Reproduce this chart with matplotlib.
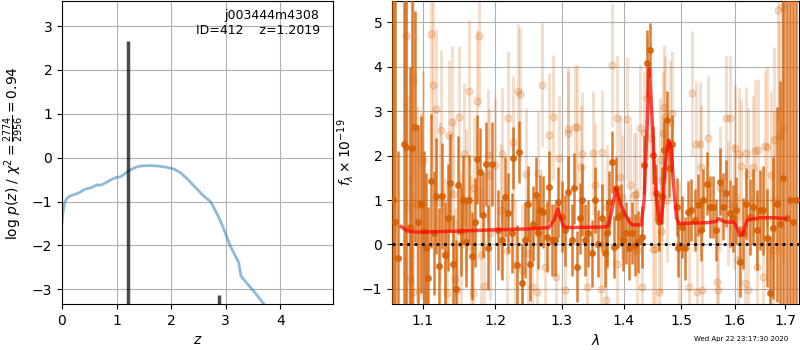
import matplotlib
matplotlib.use('Agg')
import matplotlib.pyplot as plt
from matplotlib.ticker import FixedLocator, NullLocator

# p(z) panel
pz_z = [0.00, 0.02, 0.05, 0.09, 0.14, 0.20, 0.25, 0.33, 0.39, 0.45, 0.52, 0.58,
        0.64, 0.70, 0.76, 0.82, 0.90, 1.00, 1.06, 1.12, 1.22, 1.30, 1.37, 1.45,
        1.61, 1.75, 1.92, 2.05, 2.17, 2.30, 2.40, 2.50, 2.60, 2.72, 2.80, 2.86,
        2.93, 3.00, 3.08, 3.14, 3.20, 3.24, 3.28, 3.40, 3.55, 3.72]
pz_logp = [-1.50, -1.22, -1.02, -0.93, -0.88, -0.85, -0.83, -0.79, -0.74, -0.71, -0.69, -0.66,
           -0.62, -0.63, -0.60, -0.56, -0.50, -0.45, -0.44, -0.40, -0.30, -0.25, -0.21, -0.19,
           -0.18, -0.19, -0.22, -0.26, -0.34, -0.49, -0.62, -0.75, -0.88, -1.00, -1.18, -1.33,
           -1.52, -1.74, -2.00, -2.15, -2.30, -2.40, -2.70, -2.88, -3.10, -3.37]
peak_z = [1.2019, 2.87]
peak_top = [2.65, -3.13]

# spectrum, binned points (dark)
dark_wave = [1.061, 1.064, 1.068, 1.0756, 1.0781, 1.0830, 1.0863, 1.0899, 1.0940, 1.0980,
             1.1015, 1.1040, 1.1074, 1.1114, 1.1145, 1.1177, 1.1221, 1.1261, 1.1299, 1.1335,
             1.1367, 1.1412, 1.1445, 1.1481, 1.1515, 1.1550, 1.1590, 1.1629, 1.1675, 1.1710,
             1.1746, 1.1784, 1.1831, 1.1870, 1.1902, 1.1950, 1.2046, 1.2095, 1.2143, 1.2191,
             1.2241, 1.2265, 1.2314, 1.2349, 1.2389, 1.2438, 1.2488, 1.2513, 1.2563, 1.2600,
             1.2639, 1.2664, 1.2715, 1.2767, 1.2801, 1.2844, 1.2895, 1.2941, 1.2998, 1.3050,
             1.3101, 1.3155, 1.3192, 1.3234, 1.3287, 1.3324, 1.3367, 1.3420, 1.3475, 1.3528,
             1.3582, 1.3640, 1.3693, 1.3731, 1.3764, 1.3808, 1.3841, 1.3875, 1.3913, 1.3953,
             1.3996, 1.4042, 1.4087, 1.4138, 1.4194, 1.4250, 1.4308, 1.4352, 1.4394, 1.4450,
             1.4508, 1.4554, 1.4613, 1.4655, 1.4700, 1.4743, 1.4783, 1.4832, 1.4921, 1.4949,
             1.5010, 1.5070, 1.5129, 1.5191, 1.5252, 1.5312, 1.5361, 1.5403, 1.5477, 1.5528,
             1.5590, 1.5653, 1.5716, 1.5779, 1.5843, 1.5906, 1.5970, 1.6035, 1.6099, 1.6163,
             1.6229, 1.6294, 1.6359, 1.6426, 1.6491, 1.6556, 1.6624, 1.6691, 1.6756, 1.6825,
             1.6893, 1.6961, 1.7030, 1.7098, 1.7167, 1.7222]
dark_flux = [1.00, 0.50, -0.30, 2.27, 2.20, 0.40, 2.16, 2.65, 0.50, 0.90,
             0.30, -0.09, -0.75, 1.43, 0.25, 1.09, -0.48, 1.09, -0.24, 0.60,
             1.39, -0.43, -1.00, 1.34, 0.30, 1.01, 0.05, 1.01, -0.26, 0.50,
             1.92, 1.62, 0.67, 1.81, -0.07, 1.81, 0.32, 0.10, 1.07, 0.70,
             0.25, 1.94, -0.47, 2.09, -0.88, 0.10, 0.92, -0.43, 0.47, 1.11,
             0.25, 0.77, 0.73, 0.17, 1.30, 0.10, 0.10, 0.95, 0.62, 0.32,
             1.18, 0.10, 1.26, -0.50, 0.59, 1.00, 0.10, 0.25, -0.20, 1.00,
             0.02, 0.60, -0.20, 0.25, 0.96, 1.86, -0.05, 1.26, 0.62, 0.66,
             0.10, 0.25, -0.09, 0.25, -0.02, 0.06, 0.16, 1.79, 4.08, 4.38,
             2.01, 1.15, 0.51, 1.10, 2.12, 2.80, 1.71, 2.27, 0.85, -0.09,
             0.40, -0.09, 0.73, 0.77, 0.55, 0.89, 0.32, 1.00, 1.37, 0.85,
             0.85, 0.32, 1.41, 0.85, 1.15, 0.70, 0.59, 0.77, -0.39, 0.25,
             0.92, 0.62, 0.85, 0.32, 0.77, 0.77, 0.14, -1.10, 0.36, 0.90,
             0.47, 1.50, 0.60, 1.00, 0.50, 1.00]
dark_err = [6.0, 6.0, 2.4, 4.5, 4.5, 3.6, 4.0, 2.6, 2.2, 2.0,
            1.8, 1.7, 1.6, 1.5, 1.4, 1.3, 1.3, 1.2, 1.2, 1.2,
            1.1, 1.1, 1.1, 1.1, 1.0, 1.0, 1.0, 1.0, 1.0, 1.0,
            1.0, 1.0, 0.95, 0.95, 0.95, 0.95, 0.9, 0.9, 0.9, 0.9,
            0.9, 0.7, 0.9, 0.7, 0.9, 0.85, 0.85, 0.85, 0.85, 0.85,
            0.8, 0.8, 0.8, 0.8, 0.8, 0.8, 0.8, 0.8, 0.8, 0.8,
            0.8, 0.8, 0.8, 0.8, 0.8, 0.8, 0.8, 0.75, 0.75, 0.75,
            0.75, 0.75, 0.75, 0.75, 0.7, 0.7, 0.7, 0.7, 0.7, 0.7,
            0.7, 0.7, 0.7, 0.7, 0.7, 0.7, 0.7, 0.65, 0.75, 0.6,
            0.65, 0.65, 0.65, 0.65, 0.65, 0.65, 0.65, 0.65, 0.65, 0.65,
            0.7, 0.7, 0.7, 0.7, 0.7, 0.7, 0.7, 0.7, 0.7, 0.7,
            0.7, 0.7, 0.75, 0.75, 0.75, 0.75, 0.75, 0.75, 0.8, 0.8,
            0.8, 0.85, 0.85, 0.9, 0.9, 1.0, 1.1, 1.3, 1.6, 2.2,
            3.2, 6.0, 6.0, 6.0, 6.0, 6.0]

# spectrum, unbinned points (light)
light_wave = [1.0781, 1.0810, 1.0833, 1.0868, 1.0876, 1.0921, 1.0974, 1.1008, 1.1106, 1.1133,
              1.1172, 1.1230, 1.1239, 1.1297, 1.1320, 1.1355, 1.1387, 1.1409, 1.1432, 1.1455,
              1.1490, 1.1523, 1.1554, 1.1590, 1.1622, 1.1658, 1.1680, 1.1703, 1.1740, 1.1762,
              1.1795, 1.1840, 1.1890, 1.1908, 1.1931, 1.2000, 1.2080, 1.2095, 1.2175, 1.2191,
              1.2265, 1.2290, 1.2339, 1.2364, 1.2389, 1.2453, 1.2488, 1.2539, 1.2625, 1.2639,
              1.2690, 1.2741, 1.2801, 1.2869, 1.2906, 1.2963, 1.3050, 1.3093, 1.3103, 1.3208,
              1.3234, 1.3304, 1.3315, 1.3394, 1.3503, 1.3528, 1.3625, 1.3640, 1.3705, 1.3720,
              1.3802, 1.3887, 1.3897, 1.3942, 1.3971, 1.4066, 1.4112, 1.4169, 1.4210, 1.4227,
              1.4285, 1.4308, 1.4343, 1.4400, 1.4470, 1.4508, 1.4545, 1.4613, 1.4625, 1.4640,
              1.4655, 1.4681, 1.4693, 1.4710, 1.4750, 1.4796, 1.4836, 1.4970, 1.5148, 1.5207,
              1.5268, 1.5295, 1.5340, 1.5370, 1.5385, 1.5488, 1.5672, 1.5683, 1.5716, 1.5843,
              1.5875, 1.5906, 1.5990, 1.6003, 1.6067, 1.6080, 1.6131, 1.6196, 1.6229, 1.6250,
              1.6261, 1.6359, 1.6393, 1.6426, 1.6460, 1.6556, 1.6592, 1.6624, 1.6713, 1.6756,
              1.6765, 1.6776, 1.6855, 1.6872, 1.6940, 1.6961]
light_flux = [4.70, 0.86, -0.77, 3.70, -1.08, 0.91, 0.88, 1.90, 4.73, 3.59,
              3.06, 0.96, 2.57, -0.20, -1.10, 2.46, 2.76, 1.13, -0.77, -1.03,
              2.86, 0.02, 2.03, 1.01, 3.46, -0.05, -1.10, 1.26, 3.23, 4.69,
              -0.24, -0.93, 2.01, 1.56, 0.25, 1.79, 0.77, 2.03, -0.15, 2.85,
              2.30, -0.47, 3.46, 3.38, -0.58, 1.58, -0.20, -0.95, -1.07, 1.60,
              3.60, -0.50, 2.46, 2.86, -0.73, 1.94, -1.03, 2.50, 2.60, 2.64,
              2.64, 1.75, 2.03, -0.96, 2.06, 1.33, -1.00, 2.07, -1.25, 0.84,
              4.04, -0.43, 2.84, 1.52, 1.07, 2.82, 1.33, 1.11, 1.14, -0.13,
              2.63, -0.95, 2.50, 3.30, 2.40, -0.10, -0.10, -1.07, 1.90, 0.30,
              1.45, 2.50, 3.09, 2.87, 1.00, 2.76, 2.95, -0.02, -0.96, 3.40,
              2.27, -1.07, 2.26, 1.75, -1.03, 2.39, -0.85, -1.03, 1.26, 2.84,
              0.92, 2.84, 0.85, 2.18, -0.35, 2.03, 1.76, -0.87, 2.05, -1.03,
              1.58, 1.75, 2.11, -0.50, 2.12, -0.73, 2.22, 2.20, 1.56, -0.13,
              1.00, 2.35, 5.28, 2.44, 5.35, 2.63]
light_err = [2.5, 2.5, 2.4, 2.3, 2.3, 2.2, 2.1, 2.0, 1.9, 1.9,
             1.8, 1.8, 1.8, 1.7, 1.7, 1.7, 1.7, 1.7, 1.6, 1.6,
             1.6, 1.6, 1.6, 1.6, 1.6, 1.6, 1.6, 1.6, 1.6, 1.6,
             1.5, 1.5, 1.5, 1.5, 1.5, 1.5, 1.5, 1.5, 1.5, 1.5,
             1.5, 1.5, 1.5, 1.5, 1.5, 1.5, 1.5, 1.5, 1.4, 1.4,
             1.4, 1.4, 1.4, 1.4, 1.4, 1.4, 1.4, 1.4, 1.4, 1.4,
             1.4, 1.4, 1.4, 1.4, 1.4, 1.4, 1.4, 1.4, 1.4, 1.4,
             1.4, 1.4, 1.4, 1.4, 1.4, 1.4, 1.4, 1.4, 1.4, 1.4,
             1.4, 1.4, 1.4, 1.4, 1.4, 1.4, 1.4, 1.4, 1.4, 1.4,
             1.4, 1.4, 1.4, 1.4, 1.4, 1.4, 1.4, 1.4, 1.4, 1.4,
             1.4, 1.4, 1.4, 1.4, 1.4, 1.4, 1.4, 1.4, 1.4, 1.4,
             1.4, 1.4, 1.4, 1.4, 1.5, 1.5, 1.5, 1.5, 1.5, 1.5,
             1.5, 1.6, 1.6, 1.6, 1.6, 1.7, 1.7, 1.8, 1.9, 2.0,
             2.0, 2.1, 2.5, 2.6, 3.0, 3.0]

# best-fit model
model_wave = [1.0717, 1.080, 1.090, 1.100, 1.150, 1.200, 1.250, 1.280, 1.288, 1.294,
              1.299, 1.303, 1.310, 1.360, 1.370, 1.375, 1.381, 1.387, 1.395, 1.402,
              1.410, 1.415, 1.430, 1.435, 1.440, 1.444, 1.449, 1.455, 1.461, 1.464,
              1.468, 1.472, 1.478, 1.482, 1.487, 1.492, 1.496, 1.550, 1.565, 1.569,
              1.575, 1.580, 1.595, 1.600, 1.605, 1.610, 1.615, 1.620, 1.625, 1.650,
              1.680, 1.701]
model_flux = [0.40, 0.30, 0.28, 0.28, 0.30, 0.33, 0.35, 0.38, 0.55, 0.80,
              0.55, 0.40, 0.38, 0.39, 0.40, 0.42, 0.80, 1.26, 0.92, 0.70,
              0.50, 0.44, 0.44, 1.00, 2.60, 3.96, 2.80, 1.20, 0.55, 0.49,
              0.90, 1.80, 2.35, 2.20, 1.30, 0.60, 0.47, 0.49, 0.52, 0.58,
              0.55, 0.51, 0.50, 0.48, 0.35, 0.20, 0.22, 0.40, 0.55, 0.60,
              0.60, 0.58]

wave_ticks = [1.1, 1.2, 1.3, 1.4, 1.5, 1.6, 1.7]
orange = '#d55e00'

fig = plt.figure(figsize=(8, 3.5), dpi=100)
ax1 = fig.add_axes([0.0775, 0.131, 0.339, 0.866])
ax2 = fig.add_axes([0.49, 0.131, 0.509, 0.866])

# left: log p(z)
ax1.plot(pz_z, pz_logp, color='tab:blue', alpha=0.5, lw=2)
ax1.vlines(peak_z, -3.4, peak_top, color='k', alpha=0.7, lw=2.5)
ax1.set_xlim(0, 4.97)
ax1.set_ylim(-3.34, 3.57)
ax1.set_xticks([0, 1, 2, 3, 4])
ax1.set_yticks([-3, -2, -1, 0, 1, 2, 3])
ax1.grid()
ax1.set_xlabel('$z$')
ax1.set_ylabel(r'$\log\,p(z)$ / $\chi^2=\frac{2774}{2956}=0.94$')
ax1.text(0.95, 0.975, 'j003444m4308\nID=412    z=1.2019', transform=ax1.transAxes,
         ha='right', va='top', fontsize=9)

# right: spectrum
ax2.errorbar(light_wave, light_flux, yerr=light_err, fmt='o', color=orange, alpha=0.2,
             ms=5, elinewidth=2.2, capsize=0, zorder=2)
ax2.errorbar(dark_wave, dark_flux, yerr=dark_err, fmt='o', color=orange, alpha=0.8,
             ms=4, elinewidth=1.8, capsize=0, zorder=3)
ax2.plot(model_wave, model_flux, color='red', alpha=0.7, lw=2.5, zorder=4)
ax2.axhline(0, color='k', ls=':', lw=2, zorder=5)
ax2.set_xscale('log')
ax2.set_xlim(1.060, 1.729)
ax2.set_ylim(-1.345, 5.48)
ax2.xaxis.set_major_locator(FixedLocator(wave_ticks))
ax2.xaxis.set_minor_locator(NullLocator())
ax2.set_xticklabels([str(t) for t in wave_ticks])
ax2.set_yticks([-1, 0, 1, 2, 3, 4, 5])
ax2.grid()
ax2.set_xlabel(r'$\lambda$')
ax2.set_ylabel(r'$f_\lambda\times10^{-19}$')

fig.text(0.985, 0.031, 'Wed Apr 22 23:17:30 2020', ha='right', va='center', fontsize=5)

fig.savefig('out.png', dpi=100)
